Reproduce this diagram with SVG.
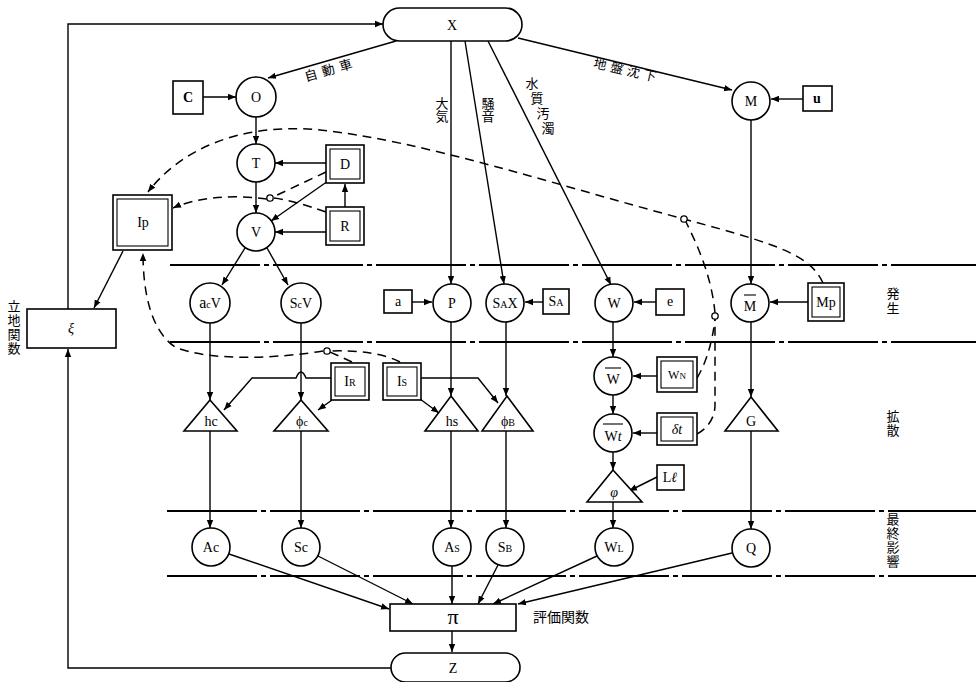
<svg xmlns="http://www.w3.org/2000/svg" width="976" height="682" viewBox="0 0 976 682">
<defs>
<marker id="ar" viewBox="0 0 10 10" refX="10" refY="5" markerWidth="8" markerHeight="8" markerUnits="userSpaceOnUse" orient="auto"><path d="M0,1 L10,5 L0,9 z" fill="#000"/></marker>
<style>
.ln{fill:none;stroke:#000;stroke-width:1.4}
.ar{marker-end:url(#ar)}
.ds{fill:none;stroke:#000;stroke-width:1.5;stroke-dasharray:9 6}
.band{fill:none;stroke:#000;stroke-width:1.8;stroke-dasharray:90 4 5 4}
.nd{fill:#fff;stroke:#000;stroke-width:1.6}
.in{fill:none;stroke:#000;stroke-width:1.1}
.mk{fill:#fff;stroke:#000;stroke-width:1.3}
.t{font-family:"Liberation Serif",serif;font-size:14px;text-anchor:middle;fill:#000}
.s{font-size:10px}
.j{font-family:"Noto Sans CJK JP","Noto Sans CJK SC",sans-serif;font-size:13px;text-anchor:middle;fill:#000}
.v{font-family:"Noto Sans CJK JP","Noto Sans CJK SC",sans-serif;font-size:13px;writing-mode:vertical-rl;text-anchor:start;fill:#000;letter-spacing:1px}
</style>
</defs>
<rect width="976" height="682" fill="#fff"/>

<g id="bands">
<path class="band" d="M170,265 H976"/>
<path class="band" d="M170,342 H976"/>
<path class="band" d="M167,511 H976"/>
<path class="band" d="M167,576 H976"/>
<text class="v" x="893" y="287" style="letter-spacing:2px">発生</text>
<text class="v" x="893" y="410">拡散</text>
<text class="v" x="893" y="513">最終影響</text>
<text class="v" x="14" y="300">立地関数</text>
<text class="j" x="561" y="622" style="font-size:14px">評価関数</text>
</g>

<g id="connectors">
<path class="ln ar" d="M68,309 L68,24 L383,24"/>
<path class="ln ar" d="M391,668 L68,668 L68,349"/>
<path class="ln ar" d="M123,251 L94,308"/>
<path class="ln ar" d="M396,41 L268,78"/>
<path class="ln ar" d="M203,97 L236,97"/>
<path class="ln ar" d="M256,117 L256,144"/>
<path class="ln ar" d="M256,182 L256,213"/>
<path class="ln ar" d="M326,163 L275,163"/>
<path class="ln ar" d="M345,207 L345,184"/>
<path class="ln ar" d="M328,181 L271,221"/>
<path class="ln ar" d="M326,232 L275,232"/>
<path class="ln ar" d="M245,248 L222,285"/>
<path class="ln ar" d="M267,248 L288,285"/>
<path class="ln ar" d="M451,41 L451,284"/>
<path class="ln ar" d="M465,41 L504,284"/>
<path class="ln ar" d="M488,41 L611,285"/>
<path class="ln ar" d="M518,38 L732,90"/>
<path class="ln ar" d="M803,99 L771,99"/>
<path class="ln ar" d="M751,120 L751,284"/>
<path class="ln ar" d="M412,302 L432,302"/>
<path class="ln ar" d="M543,302 L525,302"/>
<path class="ln ar" d="M656,302 L634,302"/>
<path class="ln ar" d="M808,302 L770,302"/>
<path class="ln ar" d="M210,323 L210,400"/>
<path class="ln ar" d="M301,323 L301,400"/>
<path class="ln ar" d="M451,322 L451,396"/>
<path class="ln ar" d="M506,322 L506,396"/>
<path class="ln ar" d="M613,322 L613,357"/>
<path class="ln ar" d="M613,395 L613,414"/>
<path class="ln ar" d="M613,452 L613,470"/>
<path class="ln ar" d="M657,376 L633,376"/>
<path class="ln ar" d="M657,433 L633,433"/>
<path class="ln ar" d="M657,477 L629,491"/>
<path class="ln ar" d="M751,322 L751,397"/>
<path class="ln ar" d="M331,378 L306,378 Q301,366 296,378 L252,378 L224,410"/>
<path class="ln ar" d="M332,400 L318,410"/>
<path class="ln ar" d="M420,399 L439,413"/>
<path class="ln ar" d="M421,378 L478,378 L498,403"/>
<path class="ln ar" d="M210,431 L210,528"/>
<path class="ln ar" d="M301,431 L301,528"/>
<path class="ln ar" d="M451,431 L451,528"/>
<path class="ln ar" d="M506,431 L506,528"/>
<path class="ln ar" d="M613,502 L613,528"/>
<path class="ln ar" d="M751,431 L751,529"/>
<path class="ln ar" d="M229,554 L389,609"/>
<path class="ln ar" d="M318,556 L413,604"/>
<path class="ln ar" d="M452,566 L452,604"/>
<path class="ln ar" d="M498,565 L478,604"/>
<path class="ln ar" d="M597,556 L493,604"/>
<path class="ln ar" d="M732,553 L518,604"/>
<path class="ln ar" d="M452,631 L452,652"/>
<path class="ds ar" d="M823,283 C810,255 780,245 684,219 C560,186 420,140 320,130 C240,122 180,150 148,192"/>
<path class="ds" d="M326,172 L273,197"/>
<path class="ds" d="M326,212 C305,205 290,200 273,198"/>
<path class="ds ar" d="M267,199 C230,194 195,198 173,208"/>
<path class="ds" d="M352,362 L330,352"/>
<path class="ds" d="M400,362 C385,354 360,350 330,351"/>
<path class="ds ar" d="M323,351 C280,358 210,362 175,347 C150,330 143,290 143,253"/>
<path class="ds" d="M697,378 C705,365 712,345 715,319"/>
<path class="ds" d="M697,434 C705,430 715,420 715,405 L715,319"/>
<path class="ds" d="M715,313 C712,280 700,250 686,222"/>
<circle class="mk" cx="270" cy="198" r="3.2"/>
<circle class="mk" cx="327" cy="351" r="3.2"/>
<circle class="mk" cx="715" cy="316" r="3.2"/>
<circle class="mk" cx="684" cy="219" r="3.2"/>
<text class="j" transform="translate(332,74) rotate(-16)" style="letter-spacing:5px">自動車</text>
<text class="j" transform="translate(626,75) rotate(13)" style="letter-spacing:4px">地盤沈下</text>
<text class="v" x="442" y="97" style="letter-spacing:0">大気</text>
<text class="v" x="488" y="97" style="letter-spacing:0">騒音</text>
<text class="v" x="532" y="77" dx="0 5 6 5" style="letter-spacing:2px">水質汚濁</text>
</g>

<g id="X"><rect class="nd" x="383" y="8" width="139" height="33" rx="16.5"/><text class="t" x="452" y="30">X</text></g>
<g id="Z"><rect class="nd" x="391" y="653" width="129" height="29" rx="14.5"/><text class="t" x="453" y="673">Z</text></g>
<g id="xi"><rect class="nd" x="27" y="309" width="89" height="39"/><text class="t" x="71" y="333" font-style="italic">ξ</text></g>
<g id="Ip"><rect class="nd" x="113" y="195" width="59" height="55"/><rect class="in" x="117" y="199" width="51" height="47"/><text class="t" x="143" y="227">Ip</text></g>
<g id="C"><rect class="nd" x="173" y="81" width="30" height="33"/><text class="t" x="188" y="102" font-weight="bold">C</text></g>
<g id="O"><circle class="nd" cx="256" cy="97" r="20"/><text class="t" x="256" y="102">O</text></g>
<g id="T"><circle class="nd" cx="256" cy="163" r="19"/><text class="t" x="256" y="168">T</text></g>
<g id="V"><circle class="nd" cx="256" cy="232" r="19"/><text class="t" x="256" y="237">V</text></g>
<g id="D"><rect class="nd" x="326" y="145" width="38" height="38"/><rect class="in" x="330" y="149" width="30" height="30"/><text class="t" x="345" y="169">D</text></g>
<g id="R"><rect class="nd" x="326" y="207" width="38" height="38"/><rect class="in" x="330" y="211" width="30" height="30"/><text class="t" x="345" y="231">R</text></g>
<g id="M"><circle class="nd" cx="751" cy="101" r="19"/><text class="t" x="751" y="106">M</text></g>
<g id="u"><rect class="nd" x="803" y="86" width="29" height="25"/><text class="t" x="817" y="103" font-weight="bold">u</text></g>
<g id="acV"><circle class="nd" cx="210" cy="303" r="20"/><text class="t" x="210" y="308"><tspan style="font-size:16px">a</tspan><tspan class="s">c</tspan>V</text></g>
<g id="ScV"><circle class="nd" cx="301" cy="303" r="20"/><text class="t" x="301" y="308">S<tspan class="s">c</tspan>V</text></g>
<g id="a"><rect class="nd" x="384" y="290" width="28" height="23"/><text class="t" x="398" y="306">a</text></g>
<g id="P"><circle class="nd" cx="452" cy="303" r="19"/><text class="t" x="452" y="308">P</text></g>
<g id="SAX"><circle class="nd" cx="505" cy="303" r="19"/><text class="t" x="505" y="308">S<tspan class="s">A</tspan>X</text></g>
<g id="SA"><rect class="nd" x="543" y="289" width="26" height="25"/><text class="t" x="556" y="306">S<tspan class="s">A</tspan></text></g>
<g id="W"><circle class="nd" cx="614" cy="303" r="19"/><text class="t" x="614" y="308">W</text></g>
<g id="e"><rect class="nd" x="656" y="289" width="28" height="26"/><text class="t" x="670" y="306">e</text></g>
<g id="Mbar"><circle class="nd" cx="750" cy="303" r="19"/><text class="t" x="750" y="311">M</text><path class="in" d="M744,295 H756"/></g>
<g id="Mp"><rect class="nd" x="808" y="283" width="36" height="38"/><rect class="in" x="812" y="287" width="28" height="30"/><text class="t" x="826" y="307">Mp</text></g>
<g id="IR"><rect class="nd" x="331" y="363" width="38" height="37"/><rect class="in" x="335" y="367" width="30" height="29"/><text class="t" x="350" y="386">I<tspan class="s">R</tspan></text></g>
<g id="Is"><rect class="nd" x="383" y="363" width="38" height="37"/><rect class="in" x="387" y="367" width="30" height="29"/><text class="t" x="402" y="386">I<tspan class="s">S</tspan></text></g>
<g id="hc"><path class="nd" d="M210,400 L237,431 L184,431 Z"/><text class="t" x="211" y="426">hc</text></g>
<g id="phic"><path class="nd" d="M301,400 L328,431 L274,431 Z"/><text class="t" x="302" y="426">ϕ<tspan class="s">c</tspan></text></g>
<g id="hs"><path class="nd" d="M451,396 L478,431 L425,431 Z"/><text class="t" x="452" y="426">hs</text></g>
<g id="phiB"><path class="nd" d="M507,396 L533,431 L482,431 Z"/><text class="t" x="508" y="426">ϕ<tspan class="s">B</tspan></text></g>
<g id="Wbar"><circle class="nd" cx="613" cy="376" r="19"/><text class="t" x="613" y="384">W</text><path class="in" d="M605,368 H621"/></g>
<g id="WN"><rect class="nd" x="657" y="357" width="40" height="35"/><rect class="in" x="661" y="361" width="32" height="27"/><text class="t" x="677" y="379" style="font-size:12px">W<tspan style="font-size:9px">N</tspan></text></g>
<g id="Wt"><circle class="nd" cx="613" cy="433" r="19"/><text class="t" x="613" y="441">W<tspan font-style="italic">t</tspan></text><path class="in" d="M603,424 H623"/></g>
<g id="dt"><rect class="nd" x="657" y="413" width="40" height="32"/><rect class="in" x="661" y="417" width="32" height="24"/><text class="t" x="677" y="434" font-style="italic">δt</text></g>
<g id="phi"><path class="nd" d="M613,470 L642,502 L587,502 Z"/><text class="t" x="614" y="497" font-style="italic">φ</text></g>
<g id="Ll"><rect class="nd" x="657" y="465" width="27" height="25"/><text class="t" x="670" y="482">L<tspan font-style="italic">ℓ</tspan></text></g>
<g id="G"><path class="nd" d="M751,397 L778,431 L725,431 Z"/><text class="t" x="751" y="426">G</text></g>
<g id="Ac"><circle class="nd" cx="211" cy="547" r="19"/><text class="t" x="211" y="552">Ac</text></g>
<g id="Sc"><circle class="nd" cx="301" cy="547" r="19"/><text class="t" x="301" y="552">Sc</text></g>
<g id="As"><circle class="nd" cx="452" cy="547" r="19"/><text class="t" x="452" y="552">A<tspan class="s">S</tspan></text></g>
<g id="SB"><circle class="nd" cx="505" cy="547" r="19"/><text class="t" x="505" y="552">S<tspan class="s">B</tspan></text></g>
<g id="WL"><circle class="nd" cx="614" cy="547" r="19"/><text class="t" x="614" y="552">W<tspan class="s">L</tspan></text></g>
<g id="Q"><circle class="nd" cx="751" cy="548" r="19"/><text class="t" x="751" y="553">Q</text></g>
<g id="pi"><rect class="nd" x="390" y="604" width="126" height="27"/><text class="t" x="453" y="624" style="font-size:22px">π</text></g>
</svg>
